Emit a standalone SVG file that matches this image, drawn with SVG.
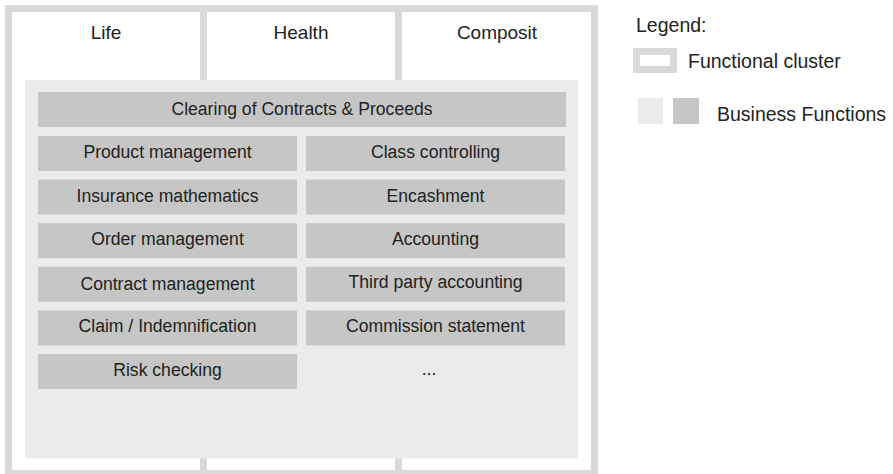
<svg xmlns="http://www.w3.org/2000/svg" width="893" height="474" viewBox="0 0 893 474">
<style>
.cluster{fill:#ffffff;stroke:#d9d9d9;stroke-width:7}
.panel{fill:#ebebeb}
.bf{fill:#c5c6c5}
text{font-family:"Liberation Sans",Arial,sans-serif;fill:#222222}
.t{font-size:17.6px;text-anchor:middle}
.h{font-size:19px;text-anchor:middle}
.l{font-size:19.5px}
</style>
<rect width="893" height="474" fill="#ffffff"/>
<g id="cluster-life"><rect class="cluster" x="8.5" y="8.5" width="195" height="465"/><text class="h" x="106" y="38.5">Life</text></g>
<g id="cluster-health"><rect class="cluster" x="203.5" y="8.5" width="195" height="465"/><text class="h" x="301" y="38.5">Health</text></g>
<g id="cluster-composit"><rect class="cluster" x="398.5" y="8.5" width="196" height="465"/><text class="h" x="497" y="38.5">Composit</text></g>
<g id="business-functions"><rect class="panel" x="25" y="80" width="553" height="378.5"/></g>
<g id="clearing"><rect class="bf" x="38" y="92" width="528" height="35"/><text class="t" x="302" y="114.5">Clearing of Contracts &amp; Proceeds</text></g>
<g id="product-management"><rect class="bf" x="38" y="136" width="259" height="35"/><text class="t" x="167.5" y="158">Product management</text></g>
<g id="class-controlling"><rect class="bf" x="306" y="136" width="259" height="35"/><text class="t" x="435.5" y="158">Class controlling</text></g>
<g id="insurance-mathematics"><rect class="bf" x="38" y="179.6" width="259" height="35"/><text class="t" x="167.5" y="201.6">Insurance mathematics</text></g>
<g id="encashment"><rect class="bf" x="306" y="179.6" width="259" height="35"/><text class="t" x="435.5" y="201.6">Encashment</text></g>
<g id="order-management"><rect class="bf" x="38" y="223.2" width="259" height="35"/><text class="t" x="167.5" y="245.2">Order management</text></g>
<g id="accounting"><rect class="bf" x="306" y="223.2" width="259" height="35"/><text class="t" x="435.5" y="245.2">Accounting</text></g>
<g id="contract-management"><rect class="bf" x="38" y="266.8" width="259" height="35"/><text class="t" x="167.5" y="289.5">Contract management</text></g>
<g id="third-party-accounting"><rect class="bf" x="306" y="266.8" width="259" height="35"/><text class="t" x="435.5" y="287.5">Third party accounting</text></g>
<g id="claim"><rect class="bf" x="38" y="310.4" width="259" height="35"/><text class="t" x="167.5" y="332.4">Claim / Indemnification</text></g>
<g id="commission-statement"><rect class="bf" x="306" y="310.4" width="259" height="35"/><text class="t" x="435.5" y="332.4">Commission statement</text></g>
<g id="risk-checking"><rect class="bf" x="38" y="354" width="259" height="35"/><text class="t" x="167.5" y="376">Risk checking</text></g>
<g id="more"><text class="t" x="429" y="375">...</text></g>
<g id="connectors"></g>
<g id="legend">
<text class="l" x="636" y="31.5">Legend:</text>
<rect class="cluster" x="636.5" y="51.5" width="37" height="18"/>
<text class="l" x="688" y="68.3">Functional cluster</text>
<rect class="panel" x="638" y="98" width="25" height="26"/>
<rect class="bf" x="673" y="98" width="26" height="26"/>
<text class="l" x="717" y="121">Business Functions</text>
</g>
</svg>
